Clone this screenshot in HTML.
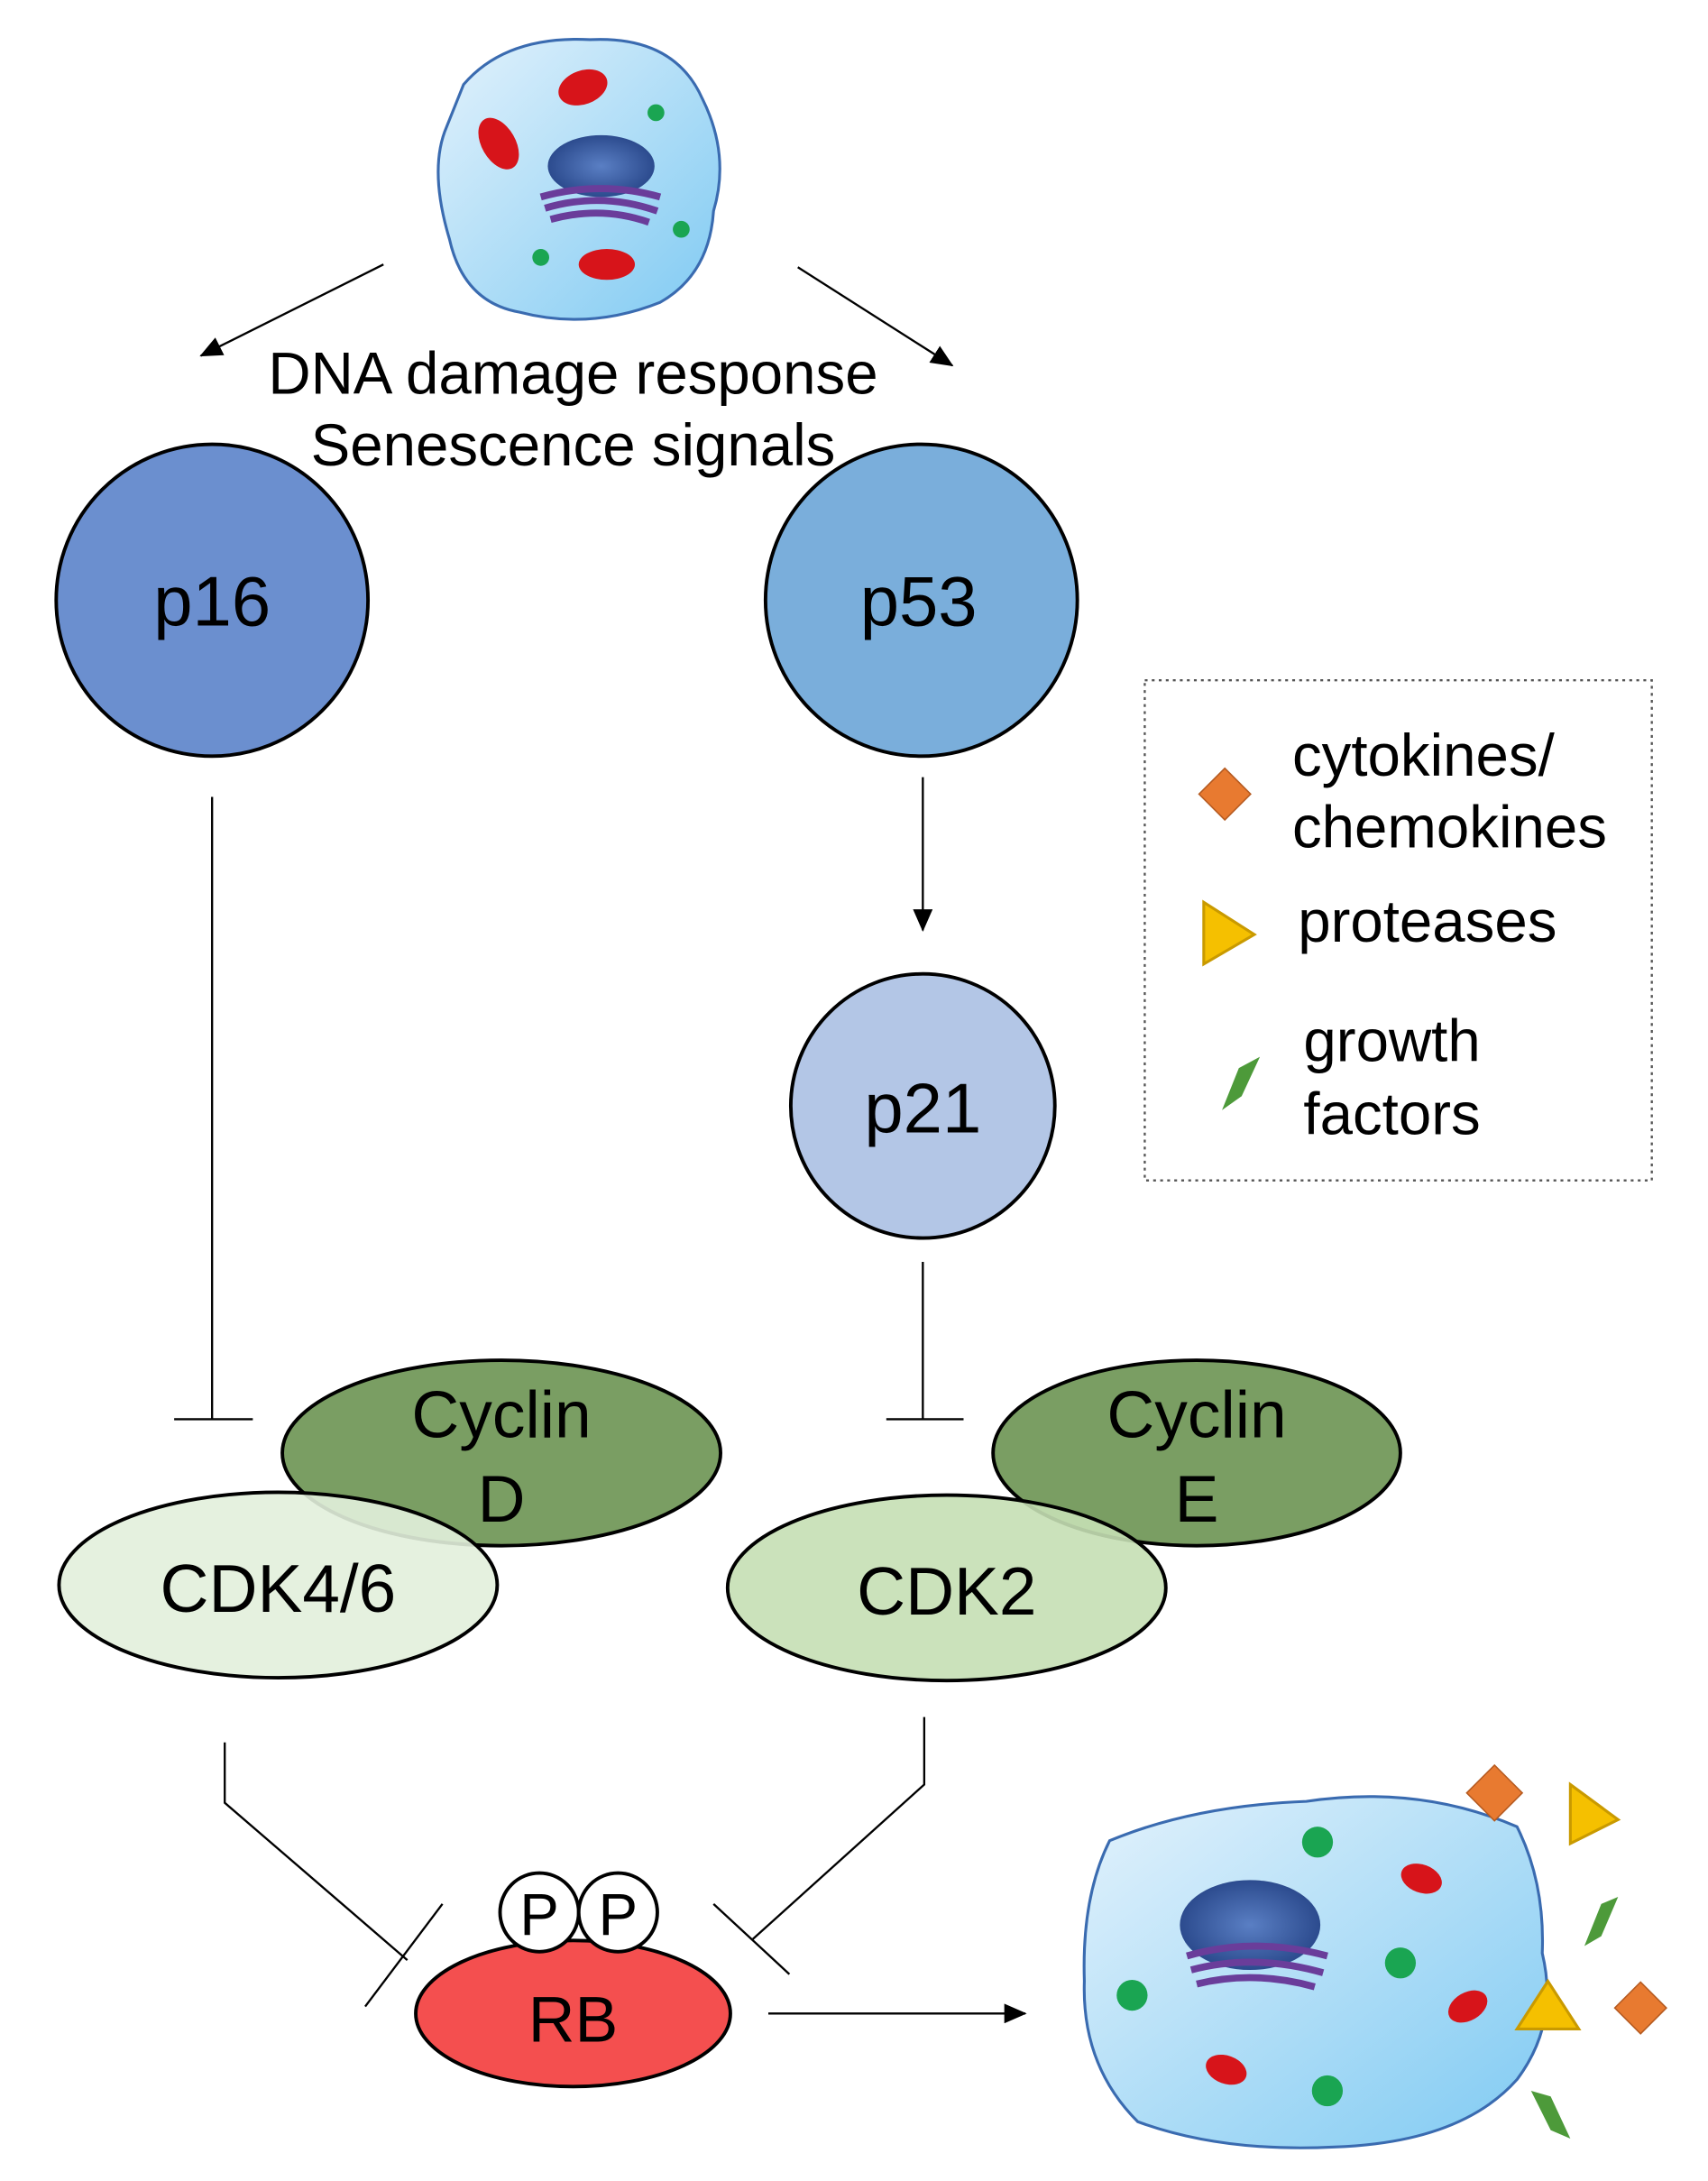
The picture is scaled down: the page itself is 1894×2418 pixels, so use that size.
<!DOCTYPE html>
<html><head><meta charset="utf-8"><style>
html,body{margin:0;padding:0;background:#fff;}
svg{display:block;}
text{font-family:"Liberation Sans",sans-serif;}
</style></head><body>
<svg width="1894" height="2418" viewBox="0 0 1216 1552" xmlns="http://www.w3.org/2000/svg">
<defs>
<marker id="ah2" markerWidth="16" markerHeight="14" refX="15" refY="7" orient="auto" markerUnits="userSpaceOnUse"><path d="M0,0 L16,7 L0,14 z" fill="#000"/></marker>
<linearGradient id="cellg" x1="0" y1="0" x2="1" y2="1"><stop offset="0" stop-color="#e3f2fc"/><stop offset="1" stop-color="#7fcaf2"/></linearGradient>
<radialGradient id="nuc"><stop offset="0" stop-color="#5a7fc4"/><stop offset="1" stop-color="#2c4b8e"/></radialGradient>
</defs>

<path d="M330,60 Q360,25 420,28 Q480,25 500,70 Q520,110 508,150 Q505,195 470,215 Q420,235 370,222 Q330,215 320,170 Q305,120 318,90 Z" fill="url(#cellg)" stroke="#3a6bb0" stroke-width="2"/>
<ellipse cx="428" cy="118" rx="38" ry="22" fill="url(#nuc)"/>
<path d="M385,140 Q428,128 470,140 M388,148 Q428,136 468,150 M392,156 Q428,146 462,158" stroke="#6a3d9a" stroke-width="5" fill="none"/>
<ellipse cx="415" cy="62" rx="18" ry="12" fill="#d7141a" transform="rotate(-20 415 62)"/>
<ellipse cx="355" cy="102" rx="12" ry="20" fill="#d7141a" transform="rotate(-30 355 102)"/>
<ellipse cx="432" cy="188" rx="20" ry="11" fill="#d7141a"/>
<circle cx="467" cy="80" r="6" fill="#1aa552"/><circle cx="485" cy="163" r="6" fill="#1aa552"/><circle cx="385" cy="183" r="6" fill="#1aa552"/>

<line x1="273" y1="188" x2="143" y2="253" stroke="#000" stroke-width="1.5" marker-end="url(#ah2)"/>
<line x1="568" y1="190" x2="678" y2="260" stroke="#000" stroke-width="1.5" marker-end="url(#ah2)"/>
<text x="408" y="280" font-size="42" text-anchor="middle">DNA damage response</text>
<text x="408" y="331" font-size="42" text-anchor="middle">Senescence signals</text>

<circle cx="151" cy="427" r="111" fill="#6b8fcf" stroke="#000" stroke-width="2.5"/>
<text x="151" y="445" font-size="50" text-anchor="middle">p16</text>
<circle cx="656" cy="427" r="111" fill="#7aaedb" stroke="#000" stroke-width="2.5"/>
<text x="654" y="445" font-size="50" text-anchor="middle">p53</text>
<circle cx="657" cy="787" r="94" fill="#b3c6e6" stroke="#000" stroke-width="2.5"/>
<text x="657" y="806" font-size="50" text-anchor="middle">p21</text>

<line x1="151" y1="567" x2="151" y2="1010" stroke="#000" stroke-width="1.5"/>
<line x1="124" y1="1010" x2="180" y2="1010" stroke="#000" stroke-width="1.5"/>
<line x1="657" y1="553" x2="657" y2="662" stroke="#000" stroke-width="1.5" marker-end="url(#ah2)"/>
<line x1="657" y1="898" x2="657" y2="1010" stroke="#000" stroke-width="1.5"/>
<line x1="631" y1="1010" x2="686" y2="1010" stroke="#000" stroke-width="1.5"/>

<ellipse cx="357" cy="1034" rx="156" ry="66" fill="#7a9e63" stroke="#000" stroke-width="2.5"/>
<ellipse cx="198" cy="1128" rx="156" ry="66" fill="#e2f0dc" fill-opacity="0.9" stroke="#000" stroke-width="2.5"/>
<text x="357" y="1023" font-size="47" text-anchor="middle">Cyclin</text>
<text x="357" y="1083" font-size="47" text-anchor="middle">D</text>
<text x="198" y="1147" font-size="48" text-anchor="middle">CDK4/6</text>

<ellipse cx="852" cy="1034" rx="145" ry="66" fill="#7a9e63" stroke="#000" stroke-width="2.5"/>
<ellipse cx="674" cy="1130" rx="156" ry="66" fill="#c5dfb4" fill-opacity="0.9" stroke="#000" stroke-width="2.5"/>
<text x="852" y="1023" font-size="47" text-anchor="middle">Cyclin</text>
<text x="852" y="1083" font-size="47" text-anchor="middle">E</text>
<text x="674" y="1149" font-size="48" text-anchor="middle">CDK2</text>

<polyline points="160,1240 160,1283 290,1395" fill="none" stroke="#000" stroke-width="1.5"/>
<line x1="260" y1="1428" x2="315" y2="1355" stroke="#000" stroke-width="1.5"/>
<polyline points="658,1222 658,1270 536,1380" fill="none" stroke="#000" stroke-width="1.5"/>
<line x1="508" y1="1355" x2="562" y2="1405" stroke="#000" stroke-width="1.5"/>

<ellipse cx="408" cy="1433" rx="112" ry="52" fill="#f44f4f" stroke="#000" stroke-width="2.5"/>
<text x="408" y="1453" font-size="46" text-anchor="middle">RB</text>
<circle cx="384" cy="1361" r="28" fill="#fff" stroke="#000" stroke-width="2.5"/>
<circle cx="440" cy="1361" r="28" fill="#fff" stroke="#000" stroke-width="2.5"/>
<text x="384" y="1377" font-size="42" text-anchor="middle">P</text>
<text x="440" y="1377" font-size="42" text-anchor="middle">P</text>

<line x1="547" y1="1433" x2="730" y2="1433" stroke="#000" stroke-width="1.5" marker-end="url(#ah2)"/>

<path d="M790,1310 Q850,1285 930,1282 Q1010,1270 1080,1300 Q1100,1340 1098,1390 Q1110,1440 1080,1480 Q1040,1525 950,1528 Q870,1532 810,1510 Q770,1470 772,1410 Q770,1350 790,1310 Z" fill="url(#cellg)" stroke="#3a6bb0" stroke-width="2"/>
<ellipse cx="890" cy="1370" rx="50" ry="32" fill="url(#nuc)"/>
<path d="M845,1392 Q893,1378 945,1392 M848,1402 Q893,1390 942,1404 M852,1412 Q893,1402 936,1414" stroke="#6a3d9a" stroke-width="5" fill="none"/>
<ellipse cx="1012" cy="1337" rx="15" ry="10" fill="#d7141a" transform="rotate(20 1012 1337)"/>
<ellipse cx="1045" cy="1428" rx="15" ry="10" fill="#d7141a" transform="rotate(-30 1045 1428)"/>
<ellipse cx="873" cy="1473" rx="15" ry="10" fill="#d7141a" transform="rotate(20 873 1473)"/>
<circle cx="938" cy="1311" r="11" fill="#1aa552"/><circle cx="997" cy="1397" r="11" fill="#1aa552"/>
<circle cx="806" cy="1420" r="11" fill="#1aa552"/><circle cx="945" cy="1488" r="11" fill="#1aa552"/>

<rect x="1050" y="1262" width="28" height="28" fill="#e87a30" stroke="#b55a20" transform="rotate(45 1064 1276)"/>
<path d="M1118,1270 L1152,1295 L1118,1312 Z" fill="#f5c000" stroke="#c99a00" stroke-width="2"/>
<path d="M1128,1385 L1140,1355 L1152,1350 L1140,1378 Z" fill="#4d9a3a"/>
<path d="M1080,1444 L1102,1410 L1124,1444 Z" fill="#f5c000" stroke="#c99a00" stroke-width="2"/>
<rect x="1155" y="1416" width="26" height="26" fill="#e87a30" stroke="#b55a20" transform="rotate(45 1168 1429)"/>
<path d="M1090,1488 L1104,1492 L1118,1522 L1104,1516 Z" fill="#4d9a3a"/>

<rect x="815" y="484" width="361" height="356" fill="none" stroke="#555" stroke-width="1.5" stroke-dasharray="2,3"/>
<rect x="859" y="552" width="26" height="26" fill="#e87a30" stroke="#b55a20" transform="rotate(45 872 565)"/>
<text x="920" y="552" font-size="42">cytokines/</text>
<text x="920" y="603" font-size="42">chemokines</text>
<path d="M857,642 L893,665 L857,686 Z" fill="#f5c000" stroke="#c99a00" stroke-width="2"/>
<text x="924" y="670" font-size="42">proteases</text>
<path d="M870,790 L882,760 L897,752 L884,780 Z" fill="#4d9a3a"/>
<text x="928" y="755" font-size="42">growth</text>
<text x="928" y="807" font-size="42">factors</text>
</svg>
</body></html>
